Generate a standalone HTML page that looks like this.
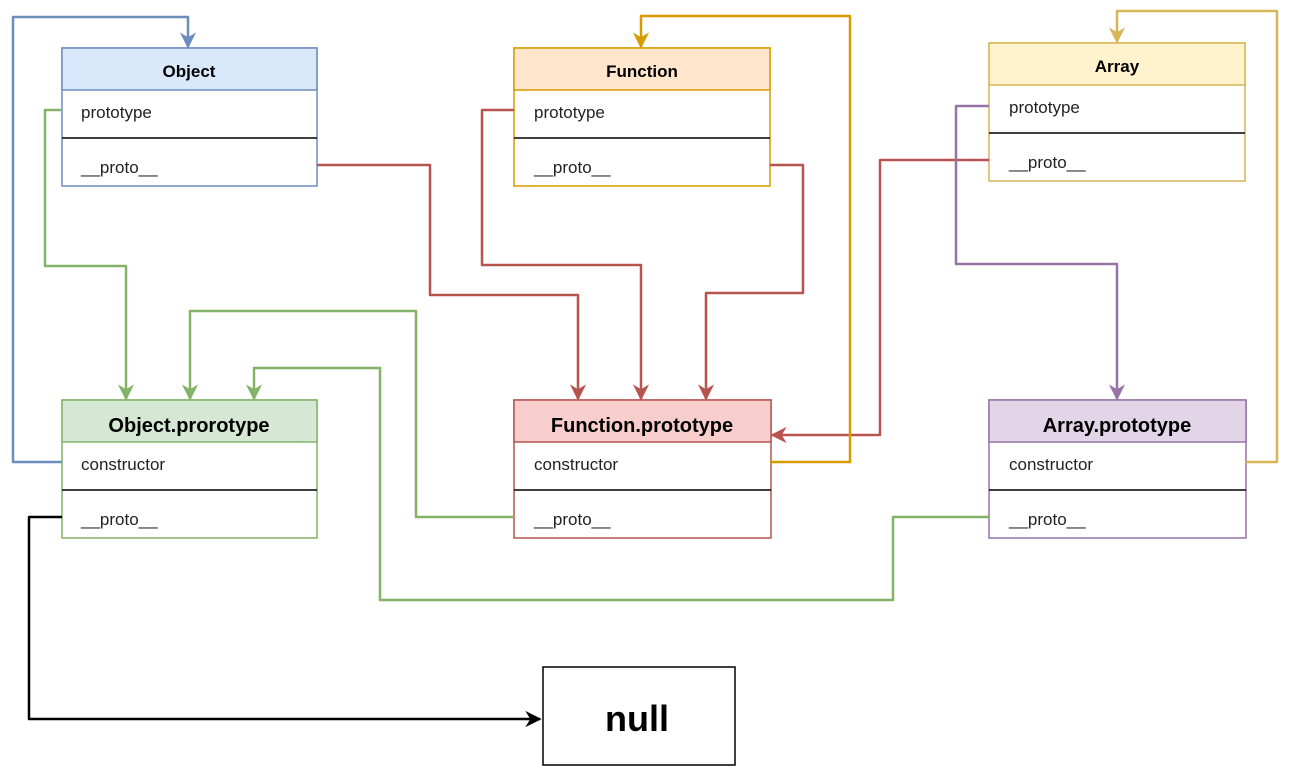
<!DOCTYPE html>
<html><head><meta charset="utf-8"><style>
html,body{margin:0;padding:0;background:#fff;}
svg{display:block;font-family:"Liberation Sans",sans-serif;}
.t{font-size:17px;fill:#222;}
.h{font-size:17px;font-weight:bold;fill:#000;text-anchor:middle;}
.h2{font-size:20px;font-weight:bold;fill:#000;text-anchor:middle;}
.c{fill:none;stroke-width:2.5;stroke-linejoin:round;}
</style></head><body>
<svg width="1292" height="767" viewBox="0 0 1292 767">
<defs>
<marker id="a" viewBox="0 0 10 10" refX="9" refY="5" markerWidth="6.5" markerHeight="6.5" orient="auto-start-reverse" markerUnits="strokeWidth"><path d="M0,0 L10,5 L0,10 L3,5 z" fill="context-stroke"/></marker>
</defs>
<g id="boxes" stroke-width="1.5">
<rect x="62" y="48" width="255" height="138" fill="#fff" stroke="#6c8ebf"/>
<rect x="62" y="48" width="255" height="42" fill="#dae8fc" stroke="#6c8ebf"/>
<line x1="62" y1="138" x2="317" y2="138" stroke="#000"/>
<text class="h" x="189" y="77">Object</text>
<text class="t" x="81" y="118">prototype</text>
<text class="t" x="81" y="173">__proto__</text>
<rect x="514" y="48" width="256" height="138" fill="#fff" stroke="#d79b00"/>
<rect x="514" y="48" width="256" height="42" fill="#ffe6cc" stroke="#d79b00"/>
<line x1="514" y1="138" x2="770" y2="138" stroke="#000"/>
<text class="h" x="642" y="77">Function</text>
<text class="t" x="534" y="118">prototype</text>
<text class="t" x="534" y="173">__proto__</text>
<rect x="989" y="43" width="256" height="138" fill="#fff" stroke="#d6b656"/>
<rect x="989" y="43" width="256" height="42" fill="#fff2cc" stroke="#d6b656"/>
<line x1="989" y1="133" x2="1245" y2="133" stroke="#000"/>
<text class="h" x="1117" y="72">Array</text>
<text class="t" x="1009" y="113">prototype</text>
<text class="t" x="1009" y="168">__proto__</text>
<rect x="62" y="400" width="255" height="138" fill="#fff" stroke="#82b366"/>
<rect x="62" y="400" width="255" height="42" fill="#d5e8d4" stroke="#82b366"/>
<line x1="62" y1="490" x2="317" y2="490" stroke="#000"/>
<text class="h2" x="189" y="432">Object.prorotype</text>
<text class="t" x="81" y="470">constructor</text>
<text class="t" x="81" y="525">__proto__</text>
<rect x="514" y="400" width="257" height="138" fill="#fff" stroke="#b85450"/>
<rect x="514" y="400" width="257" height="42" fill="#f8cecc" stroke="#b85450"/>
<line x1="514" y1="490" x2="771" y2="490" stroke="#000"/>
<text class="h2" x="642" y="432">Function.prototype</text>
<text class="t" x="534" y="470">constructor</text>
<text class="t" x="534" y="525">__proto__</text>
<rect x="989" y="400" width="257" height="138" fill="#fff" stroke="#9673a6"/>
<rect x="989" y="400" width="257" height="42" fill="#e1d5e7" stroke="#9673a6"/>
<line x1="989" y1="490" x2="1246" y2="490" stroke="#000"/>
<text class="h2" x="1117" y="432">Array.prototype</text>
<text class="t" x="1009" y="470">constructor</text>
<text class="t" x="1009" y="525">__proto__</text>
<rect x="543" y="667" width="192" height="98" fill="#fff" stroke="#000"/>
<text x="637" y="731" style="font-size:36px;font-weight:bold" text-anchor="middle">null</text>
</g>
<g>
<path class="c" stroke="#6c8ebf" d="M62,462 H13 V17 H188 V47" marker-end="url(#a)"/>
<path class="c" stroke="#82b366" d="M62,110 H45 V266 H126 V399" marker-end="url(#a)"/>
<path class="c" stroke="#82b366" d="M514,517 H416 V311 H190 V399" marker-end="url(#a)"/>
<path class="c" stroke="#82b366" d="M989,517 H893 V600 H380 V368 H254 V399" marker-end="url(#a)"/>
<path class="c" stroke="#000" d="M62,517 H29 V719 H540" marker-end="url(#a)"/>
<path class="c" stroke="#b85450" d="M317,165 H430 V295 H578 V399" marker-end="url(#a)"/>
<path class="c" stroke="#b85450" d="M514,110 H482 V265 H641 V399" marker-end="url(#a)"/>
<path class="c" stroke="#b85450" d="M770,165 H803 V293 H706 V399" marker-end="url(#a)"/>
<path class="c" stroke="#b85450" d="M989,160 H880 V435 H772" marker-end="url(#a)"/>
<path class="c" stroke="#d79b00" d="M770,462 H850 V16 H641 V47" marker-end="url(#a)"/>
<path class="c" stroke="#9673a6" d="M989,106 H956 V264 H1117 V399" marker-end="url(#a)"/>
<path class="c" stroke="#d6b656" d="M1246,462 H1277 V11 H1117 V42" marker-end="url(#a)"/>
</g>
</svg>
</body></html>
